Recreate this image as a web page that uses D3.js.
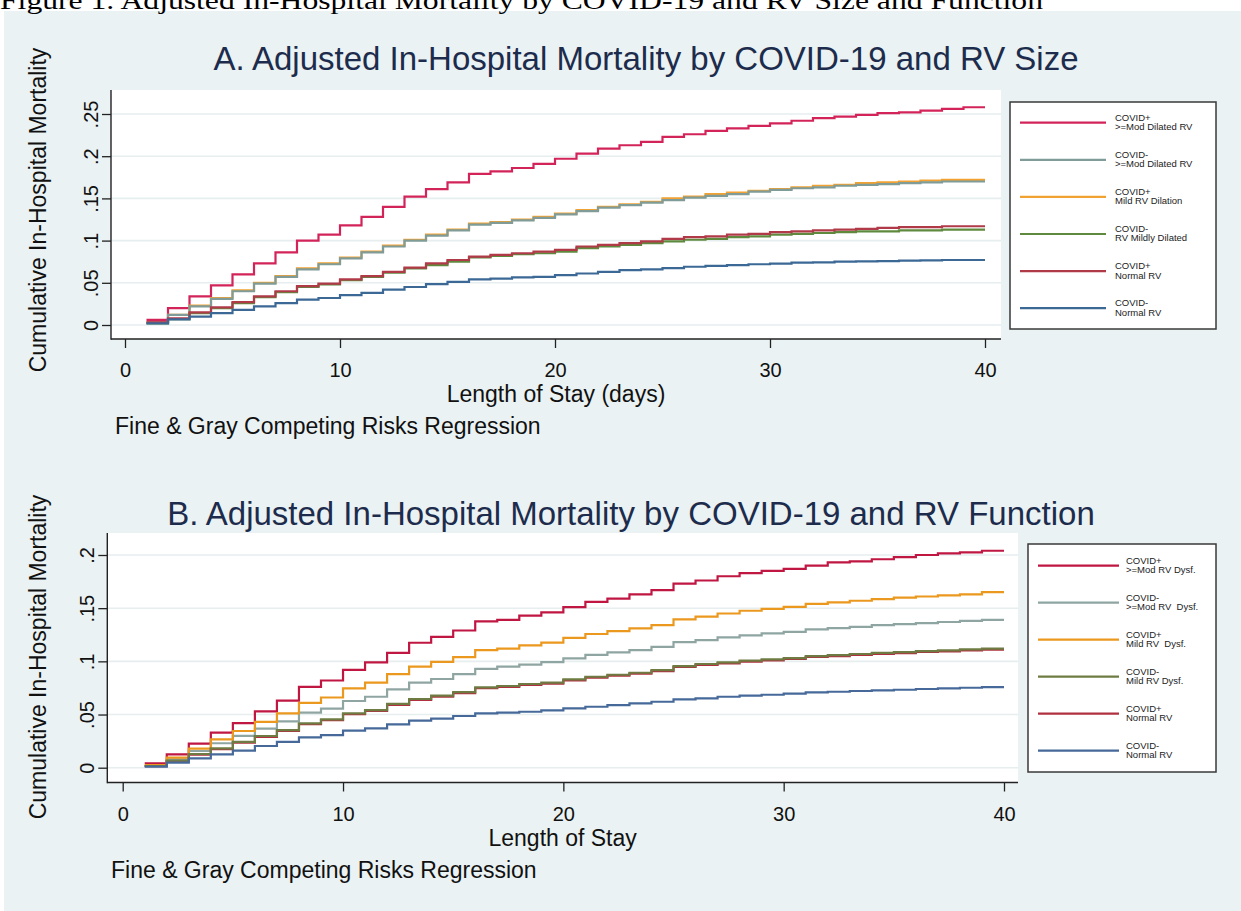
<!DOCTYPE html>
<html><head><meta charset="utf-8">
<script src="https://cdn.jsdelivr.net/npm/d3@7"></script>
<style>
body{margin:0;background:#fff}
svg{display:block}
text{font-family:"Liberation Sans",Arial,sans-serif}
</style>
</head><body>
<svg id="c" width="1241" height="911"></svg>
<script>
// ---------- DATA ----------
const days = [1,2,3,4,5,6,7,8,9,10,11,12,13,14,15,16,17,18,19,20,21,22,23,24,25,26,27,28,29,30,31,32,33,34,35,36,37,38,39,40];

const xTicks = [0,10,20,30,40];
const xTickLabels = ["0","10","20","30","40"];

const yTicksA = [0,0.05,0.1,0.15,0.2,0.25];
const yTickLabelsA = ["0",".05",".1",".15",".2",".25"];
const yTicksB = [0,0.05,0.1,0.15,0.2];
const yTickLabelsB = ["0",".05",".1",".15",".2"];

// Panel A: RV size
const legendA = [["COVID+",">=Mod Dilated RV"],["COVID-",">=Mod Dilated RV"],["COVID+","Mild RV Dilation"],["COVID-","RV Mildly Dilated"],["COVID+","Normal RV"],["COVID-","Normal RV"]];
const A_covPosModDil = [0.006,0.020,0.034,0.047,0.060,0.073,0.086,0.100,0.107,0.118,0.128,0.140,0.152,0.161,0.169,0.179,0.182,0.186,0.191,0.197,0.203,0.209,0.213,0.217,0.223,0.226,0.230,0.233,0.236,0.239,0.242,0.245,0.247,0.249,0.251,0.252,0.254,0.256,0.258,0.258];
const A_covNegModDil = [0.003,0.012,0.022,0.031,0.040,0.049,0.057,0.066,0.072,0.079,0.086,0.093,0.100,0.106,0.112,0.119,0.121,0.124,0.127,0.131,0.135,0.139,0.142,0.145,0.148,0.151,0.153,0.155,0.158,0.160,0.162,0.163,0.165,0.166,0.167,0.168,0.169,0.170,0.170,0.170];
const A_covPosMild = [0.003,0.012,0.023,0.032,0.041,0.050,0.058,0.067,0.073,0.080,0.087,0.094,0.101,0.107,0.113,0.120,0.122,0.125,0.128,0.132,0.136,0.140,0.143,0.146,0.150,0.152,0.155,0.157,0.159,0.161,0.163,0.165,0.166,0.168,0.169,0.170,0.171,0.172,0.172,0.172];
const A_covNegMild = [0.002,0.007,0.014,0.020,0.026,0.033,0.039,0.045,0.048,0.053,0.057,0.062,0.067,0.071,0.075,0.080,0.082,0.084,0.085,0.087,0.091,0.093,0.095,0.097,0.099,0.101,0.102,0.104,0.105,0.107,0.108,0.109,0.110,0.111,0.111,0.112,0.112,0.113,0.113,0.113];
const A_covPosNormal = [0.003,0.008,0.015,0.021,0.027,0.034,0.040,0.046,0.049,0.054,0.058,0.063,0.068,0.073,0.077,0.081,0.083,0.085,0.087,0.089,0.093,0.095,0.097,0.099,0.102,0.104,0.105,0.107,0.108,0.110,0.111,0.112,0.113,0.114,0.115,0.116,0.116,0.117,0.117,0.117];
const A_covNegNormal = [0.002,0.0067,0.010,0.014,0.018,0.022,0.026,0.030,0.032,0.0355,0.038,0.042,0.045,0.0485,0.051,0.054,0.055,0.0565,0.057,0.059,0.061,0.063,0.065,0.066,0.0675,0.069,0.070,0.071,0.072,0.0727,0.0738,0.0742,0.075,0.0754,0.0758,0.0762,0.0766,0.077,0.077,0.077];

// Panel B: RV function
const legendB = [["COVID+",">=Mod RV Dysf."],["COVID-",">=Mod RV  Dysf."],["COVID+","Mild RV  Dysf."],["COVID-","Mild RV Dysf."],["COVID+","Normal RV"],["COVID-","Normal RV"]];
const B_covPosModDys = [0.004,0.0126,0.0226,0.033,0.042,0.053,0.063,0.076,0.082,0.092,0.099,0.108,0.1175,0.123,0.129,0.1376,0.139,0.143,0.146,0.151,0.156,0.159,0.163,0.167,0.173,0.176,0.180,0.183,0.185,0.187,0.190,0.193,0.194,0.196,0.198,0.200,0.2015,0.2025,0.204,0.204];
const B_covNegModDys = [0.0016,0.0079,0.0157,0.023,0.030,0.0367,0.0436,0.0517,0.0555,0.0627,0.0667,0.0737,0.080,0.0834,0.088,0.093,0.095,0.097,0.0993,0.1028,0.106,0.1085,0.1106,0.1137,0.118,0.120,0.1226,0.1244,0.1263,0.1278,0.130,0.1313,0.1325,0.134,0.135,0.136,0.137,0.138,0.139,0.139];
const B_covPosMild = [0.0025,0.0094,0.018,0.0267,0.0345,0.043,0.051,0.061,0.066,0.0746,0.080,0.088,0.095,0.0996,0.104,0.1106,0.112,0.115,0.1177,0.122,0.1257,0.1285,0.131,0.134,0.1395,0.142,0.145,0.1476,0.1494,0.1513,0.154,0.1554,0.157,0.1586,0.160,0.161,0.162,0.163,0.165,0.165];
const B_covNegMild = [0.0016,0.0066,0.0129,0.0182,0.0242,0.0298,0.0354,0.0417,0.0455,0.0511,0.0542,0.060,0.0646,0.0677,0.0711,0.0756,0.0768,0.0787,0.080,0.0831,0.0855,0.0874,0.0893,0.0918,0.0956,0.0975,0.099,0.1006,0.1019,0.1031,0.105,0.1059,0.1069,0.108,0.1087,0.1097,0.1103,0.1113,0.112,0.112];
const B_covPosNormal = [0.0014,0.006,0.0122,0.0175,0.0235,0.029,0.0346,0.0409,0.0447,0.0503,0.0534,0.0591,0.0637,0.0668,0.0702,0.0747,0.0759,0.0778,0.0791,0.0822,0.0846,0.0865,0.0884,0.0909,0.0947,0.0966,0.0981,0.0997,0.101,0.1022,0.1041,0.105,0.106,0.1071,0.1078,0.1088,0.1094,0.1104,0.1111,0.1111];
const B_covNegNormal = [0.001,0.0047,0.0088,0.0126,0.016,0.0204,0.0242,0.0286,0.0307,0.0348,0.037,0.0408,0.0442,0.0461,0.0486,0.0511,0.0517,0.0526,0.0539,0.0558,0.0573,0.0589,0.0605,0.062,0.0643,0.0652,0.0667,0.0677,0.0686,0.0696,0.0709,0.0714,0.0721,0.0727,0.0733,0.074,0.0746,0.0752,0.0758,0.0758];

const colorsA = ["#d3245a","#7f9c98","#f1a233","#5f8a3e","#b13a49","#3b6895"];
const colorsB = ["#c01642","#8ea5a2","#eb981f","#6e7c43","#b0303f","#46699a"];

// ---------- DRAW ----------
const svg = d3.select("#c");
svg.append("rect").attr("x",4).attr("y",11).attr("width",1237).attr("height",900).attr("fill","#eaf2f3");
svg.append("text").attr("x",0).attr("y",9)
  .attr("textLength",1043).attr("lengthAdjust","spacingAndGlyphs")
  .style("font-family",'"Liberation Serif","Times New Roman",serif').style("font-size","26px").attr("fill","#000")
  .text("Figure 1. Adjusted In-Hospital Mortality by COVID-19 and RV Size and Function");

function panel(cfg){
  const g = svg.append("g");
  const x = d3.scaleLinear().domain([0,40]).range(cfg.xr);
  const y = d3.scaleLinear().domain([0,cfg.ymax]).range(cfg.yr);
  const P = cfg.plot; // [left, top, right, bottom]
  g.append("rect").attr("x",P[0]).attr("y",P[1]).attr("width",P[2]-P[0]).attr("height",P[3]-P[1]).attr("fill","#fff");
  // gridlines
  g.selectAll(".grid").data(cfg.yTicks).join("line")
    .attr("x1",P[0]).attr("x2",P[2]).attr("y1",d=>y(d)).attr("y2",d=>y(d))
    .attr("stroke","#e6eef0").attr("stroke-width",1.6);
  // series
  const line = d3.line().x((d,i)=>x(days[i])).y(d=>y(d)).curve(d3.curveStepAfter);
  cfg.order.forEach(k=>{
    g.append("path").datum(cfg.series[k]).attr("d",line).attr("fill","none")
      .attr("stroke",cfg.colors[k]).attr("stroke-width",2.2).attr("stroke-linejoin","miter");
  });
  // axes
  const ax = g.append("g").attr("transform",`translate(${P[0]},0)`)
    .call(d3.axisLeft(y).tickValues(cfg.yTicks).tickFormat((d,i)=>cfg.yLabels[i]).tickSize(9).tickSizeOuter(0));
  ax.select(".domain").remove();
  ax.selectAll(".tick line").attr("stroke","#222").attr("stroke-width",1.3);
  ax.selectAll(".tick text").attr("x",0).attr("dy",null).attr("text-anchor","middle")
    .attr("transform","translate(-13,0) rotate(-90)").style("font-size","20px").attr("fill","#111");
  const bx = g.append("g").attr("transform",`translate(0,${P[3]})`)
    .call(d3.axisBottom(x).tickValues(xTicks).tickFormat((d,i)=>xTickLabels[i]).tickSize(9).tickSizeOuter(0));
  bx.select(".domain").remove();
  bx.selectAll(".tick line").attr("stroke","#222").attr("stroke-width",1.3);
  bx.selectAll(".tick text").attr("y",38).attr("dy",null).style("font-size","20px").attr("fill","#111");
  g.append("line").attr("x1",P[0]).attr("x2",P[0]).attr("y1",P[1]).attr("y2",P[3]+0.7).attr("stroke","#222").attr("stroke-width",1.4);
  g.append("line").attr("x1",P[0]).attr("x2",P[2]).attr("y1",P[3]).attr("y2",P[3]).attr("stroke","#222").attr("stroke-width",1.4);
  // titles
  g.append("text").attr("x",cfg.titleX).attr("y",cfg.titleY).attr("text-anchor","middle")
    .style("font-size","33px").attr("fill","#1d2c4c").text(cfg.title);
  g.append("text").attr("transform",`translate(46,${cfg.ytitleY}) rotate(-90)`).attr("text-anchor","middle")
    .style("font-size","23px").attr("fill","#111").text("Cumulative In-Hospital Mortality");
  g.append("text").attr("x",(P[0]+P[2])/2).attr("y",P[3]+63).attr("text-anchor","middle")
    .style("font-size","23px").attr("fill","#111").text(cfg.xtitle);
  g.append("text").attr("x",cfg.noteX).attr("y",P[3]+95)
    .style("font-size","23px").attr("fill","#111").text("Fine & Gray Competing Risks Regression");
  // legend
  const L = cfg.legend;
  g.append("rect").attr("x",L.x).attr("y",L.y).attr("width",L.w).attr("height",L.h)
    .attr("fill","#fff").attr("stroke","#3a3a3a").attr("stroke-width",1.5);
  cfg.legendText.forEach((t,i)=>{
    const ly = L.first + i*L.step;
    g.append("line").attr("x1",L.lx1).attr("x2",L.lx2).attr("y1",ly).attr("y2",ly)
      .attr("stroke",cfg.colors[i]).attr("stroke-width",2.2);
    const tx = g.append("text").attr("x",L.tx).attr("y",ly-2).style("font-size","9.5px").attr("fill","#222")
      .attr("xml:space","preserve").style("white-space","pre");
    tx.append("tspan").attr("x",L.tx).attr("y",ly-1.8).text(t[0]);
    tx.append("tspan").attr("x",L.tx).attr("y",ly+7.4).text(t[1]);
  });
}

panel({
  title:"A. Adjusted In-Hospital Mortality by COVID-19 and RV Size", titleX:646, titleY:70,
  xtitle:"Length of Stay (days)", ytitleY:210, noteX:115,
  xr:[125,985], yr:[325,114], ymax:0.25, plot:[111,90,1001,339],
  yTicks:yTicksA, yLabels:yTickLabelsA,
  series:[A_covPosModDil,A_covNegModDil,A_covPosMild,A_covNegMild,A_covPosNormal,A_covNegNormal],
  order:[0,2,1,3,4,5], colors:colorsA, legendText:legendA,
  legend:{x:1010,y:102,w:206,h:227,lx1:1020,lx2:1106,tx:1115,first:122.7,step:37.1}
});
panel({
  title:"B. Adjusted In-Hospital Mortality by COVID-19 and RV Function", titleX:631, titleY:525,
  xtitle:"Length of Stay", ytitleY:657, noteX:111,
  xr:[122.7,1004], yr:[767.7,555], ymax:0.2, plot:[107.3,533,1018,782.5],
  yTicks:yTicksB, yLabels:yTickLabelsB,
  series:[B_covPosModDys,B_covNegModDys,B_covPosMild,B_covNegMild,B_covPosNormal,B_covNegNormal],
  order:[0,1,2,4,3,5], colors:colorsB, legendText:legendB,
  legend:{x:1028,y:544,w:188,h:228,lx1:1038,lx2:1119,tx:1126,first:565.7,step:37}
});
</script>
</body></html>
